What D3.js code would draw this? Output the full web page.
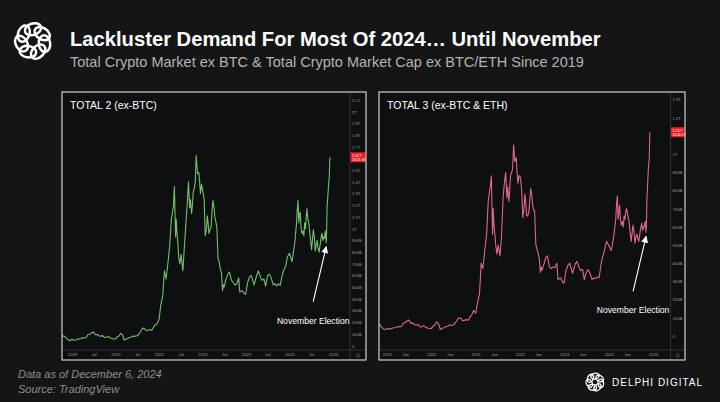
<!DOCTYPE html>
<html>
<head>
<meta charset="utf-8">
<script src="https://cdn.jsdelivr.net/npm/d3@7"></script>
<style>
  body { margin: 0; background: #141517; }
  svg { display: block; font-family: "Liberation Sans", Arial, sans-serif; }
</style>
</head>
<body>
<div id="chart"></div>
<script>

// shared dates for both series
const dates = [
  "2018-10-01","2018-10-15","2018-11-01","2018-11-15","2018-12-01","2018-12-15",
  "2019-01-01","2019-01-15","2019-02-01","2019-02-15","2019-03-01","2019-03-15",
  "2019-04-01","2019-04-15","2019-05-01","2019-05-15","2019-06-01","2019-06-15",
  "2019-07-01","2019-07-15","2019-08-01","2019-08-15","2019-09-01","2019-09-15",
  "2019-10-01","2019-10-15","2019-11-01","2019-11-15","2019-12-01","2019-12-15",
  "2020-01-01","2020-01-15","2020-02-01","2020-02-15","2020-03-01","2020-03-15",
  "2020-04-01","2020-04-15","2020-05-01","2020-05-15","2020-06-01","2020-06-15",
  "2020-07-01","2020-07-15","2020-08-01","2020-08-15","2020-09-01","2020-09-15",
  "2020-10-01","2020-10-15","2020-11-01","2020-11-15","2020-12-01","2020-12-15",
  "2021-01-01","2021-01-15","2021-02-01","2021-02-15","2021-03-01","2021-03-15",
  "2021-04-01","2021-04-15","2021-05-01","2021-05-10","2021-05-20","2021-05-25",
  "2021-06-01","2021-06-08","2021-06-15","2021-06-25","2021-07-05","2021-07-20",
  "2021-08-01","2021-08-15","2021-08-25","2021-09-05","2021-09-15","2021-09-22",
  "2021-10-01","2021-10-08","2021-10-15","2021-10-25","2021-11-01","2021-11-09",
  "2021-11-20","2021-12-01","2021-12-08","2021-12-15","2021-12-24","2022-01-01",
  "2022-01-08","2022-01-15","2022-01-24","2022-02-03","2022-02-10","2022-02-17",
  "2022-02-24","2022-03-05","2022-03-15","2022-03-22","2022-03-30","2022-04-08",
  "2022-04-15","2022-04-25","2022-05-01","2022-05-12","2022-05-20","2022-06-01",
  "2022-06-10","2022-06-18","2022-06-25","2022-07-01","2022-07-15","2022-08-01",
  "2022-08-15","2022-09-01","2022-09-15","2022-10-01","2022-10-15","2022-11-01",
  "2022-11-10","2022-12-01","2022-12-15","2022-12-30","2023-01-15","2023-02-01",
  "2023-02-15","2023-03-10","2023-04-01","2023-04-15","2023-05-01","2023-05-15",
  "2023-06-01","2023-06-15","2023-07-01","2023-07-15","2023-08-01","2023-08-18",
  "2023-09-01","2023-09-15","2023-10-01","2023-10-15","2023-11-01","2023-11-15",
  "2023-12-01","2023-12-15","2024-01-01","2024-01-23","2024-02-01","2024-02-15",
  "2024-03-01","2024-03-06","2024-03-13","2024-03-20","2024-03-27","2024-04-01",
  "2024-04-08","2024-04-15","2024-04-24","2024-05-01","2024-05-08","2024-05-15",
  "2024-05-21","2024-05-27","2024-06-03","2024-06-10","2024-06-17","2024-06-24",
  "2024-07-05","2024-07-12","2024-07-20","2024-07-28","2024-08-05","2024-08-12",
  "2024-08-20","2024-08-27","2024-09-06","2024-09-13","2024-09-20","2024-09-27",
  "2024-10-01","2024-10-08","2024-10-15","2024-10-22","2024-10-28","2024-11-05",
  "2024-11-09","2024-11-12","2024-11-17","2024-11-22","2024-11-27","2024-12-01",
  "2024-12-06"
];

// TOTAL2 (ex-BTC), billions USD
const total2 = [
  88, 84, 80, 62, 50, 43,
  54, 49, 47, 56, 57, 61,
  68, 66, 72, 96, 98, 110,
  116, 93, 96, 84, 82, 86,
  70, 72, 78, 68, 62, 57,
  58, 74, 84, 106, 90, 49,
  58, 63, 72, 74, 82, 80,
  85, 98, 124, 150, 146, 128,
  130, 138, 132, 158, 180, 186,
  225, 340, 430, 640, 570, 690,
  860, 1090, 1180, 1360, 930, 1080,
  960, 880, 760, 700, 780, 640,
  830, 1050, 1200, 1400, 1180, 1250,
  1130, 1200, 1310, 1350, 1400, 1625,
  1470, 1480, 1400, 1300, 1380, 1330,
  1300, 1250, 940, 1000, 1110, 1050,
  960, 990, 1020, 1150, 1240, 1180,
  1100, 1050, 1020, 740, 720, 650,
  620, 470, 520, 500, 560, 610,
  630, 560, 540, 520, 525, 580,
  460, 470, 450, 440, 540, 590,
  600, 520, 600, 640, 590, 560,
  570, 510, 600, 610, 580, 520,
  530, 510, 530, 515, 600, 650,
  680, 760, 790, 720, 780, 880,
  1050, 1150, 1240, 1050, 1130, 1140,
  1000, 960, 980, 940, 1050, 1000,
  1100, 1170, 1090, 1060, 1000, 930,
  820, 900, 990, 930, 810, 860,
  900, 840, 800, 850, 900, 950,
  960, 900, 930, 920, 980, 880,
  1000, 1180, 1250, 1330, 1400, 1450,
  1610
];

// TOTAL3 (ex-BTC & ETH), billions USD
const total3 = [
  72, 68, 66, 50, 40, 35,
  42, 39, 38, 44, 45, 47,
  52, 50, 54, 70, 74, 82,
  88, 70, 72, 62, 60, 63,
  50, 52, 56, 48, 44, 41,
  42, 54, 62, 78, 66, 36,
  42, 46, 52, 54, 60, 58,
  62, 70, 88, 100, 96, 84,
  86, 90, 86, 104, 118, 140,
  125, 180, 230, 400, 370, 460,
  560, 750, 820, 880, 560, 700,
  600, 560, 500, 450, 500, 440,
  540, 760, 840, 900, 760, 820,
  740, 800, 880, 900, 920, 1050,
  960, 980, 900, 840, 880, 880,
  850, 800, 650, 700, 780, 740,
  660, 660, 680, 740, 810, 780,
  720, 690, 690, 500, 480, 450,
  420, 350, 380, 360, 390, 430,
  440, 380, 370, 380, 375, 400,
  310, 320, 300, 290, 360, 390,
  400, 345, 395, 410, 380, 360,
  365, 310, 350, 365, 345, 310,
  320, 315, 325, 320, 400, 440,
  480, 520, 500, 470, 500, 560,
  650, 720, 770, 640, 690, 720,
  640, 610, 630, 600, 660, 640,
  680, 700, 680, 660, 630, 590,
  520, 560, 610, 580, 510, 540,
  560, 540, 520, 550, 590, 610,
  620, 580, 600, 600, 630, 570,
  650, 760, 820, 900, 950, 980,
  1120
];

const yTicks2 = [0, 100, 200, 300, 400, 500, 600, 700, 800, 900, 1000,
  1100, 1200, 1300, 1400, 1500, 1600, 1700, 1800, 1900, 2000, 2100];
const yTicks3 = [0, 100, 200, 300, 400, 500, 600, 700, 800, 900, 1000, 1100, 1200, 1300];

const xTicks2 = ["2019-01-01","2019-07-01","2020-01-01","2020-07-01","2021-01-01","2021-07-01",
  "2022-01-01","2022-07-01","2023-01-01","2023-07-01","2024-01-01","2024-07-01","2025-01-01"];
const xLabels2 = ["2019","Jul","2020","Jul","2021","Jul","2022","Jul","2023","Jul","2024","Jul","2025"];
const xTicks3 = ["2019-01-01","2019-06-01","2020-01-01","2020-06-01","2021-01-01","2021-06-01",
  "2022-01-01","2022-06-01","2023-01-01","2023-06-01","2024-01-01","2024-06-01","2025-01-01"];
const xLabels3 = ["2019","Jun","2020","Jun","2021","Jun","2022","Jun","2023","Jun","2024","Jun","2025"];

const electionDate = "2024-11-05";

const parse = d3.timeParse("%Y-%m-%d");

function fmtAxis(v) {
  if (v === 0) return "0";
  if (v < 1000) return v + "B";
  return (v / 1000) + "T";
}

const width = 720;
const height = 402;

const svg = d3.select("#chart")
  .append("svg")
  .attr("width", width)
  .attr("height", height);

svg.append("rect")
  .attr("width", width)
  .attr("height", height)
  .attr("fill", "#141517");

// arrow head marker
svg.append("defs").append("marker")
  .attr("id", "arrow")
  .attr("markerUnits", "userSpaceOnUse")
  .attr("viewBox", "0 0 10 10")
  .attr("refX", 9).attr("refY", 5)
  .attr("markerWidth", 7).attr("markerHeight", 7)
  .attr("orient", "auto")
  .append("path")
  .attr("d", "M0,0 L10,5 L0,10 z")
  .attr("fill", "#fff");

// ring of woven loops, roughly the Delphi mark
function drawLogo(g, cx, cy, r, sw) {
  const logo = g.append("g").attr("transform", `translate(${cx},${cy})`);
  d3.range(7).forEach(function (k) {
    const a = k * 360 / 7;
    logo.append("ellipse")
      .attr("transform", `rotate(${a}) translate(0,${-r * 0.62}) rotate(-18)`)
      .attr("rx", r * 0.44)
      .attr("ry", r * 0.3)
      .attr("fill", "none")
      .attr("stroke", "#fff")
      .attr("stroke-width", sw);
  });
}

// header
drawLogo(svg, 33, 41, 19, 2.5);

svg.append("text")
  .attr("x", 70).attr("y", 46)
  .attr("fill", "#fff")
  .attr("font-size", 20.2)
  .attr("font-weight", "bold")
  .text("Lackluster Demand For Most Of 2024\u2026 Until November");

svg.append("text")
  .attr("x", 70).attr("y", 67)
  .attr("fill", "#b4b4b4")
  .attr("font-size", 14.5)
  .text("Total Crypto Market ex BTC & Total Crypto Market Cap ex BTC/ETH Since 2019");

function drawPanel(cfg) {
  const g = svg.append("g");

  g.append("rect")
    .attr("x", cfg.left).attr("y", cfg.top)
    .attr("width", cfg.right - cfg.left)
    .attr("height", cfg.bottom - cfg.top)
    .attr("fill", "#0e0f11");

  const x = d3.scaleTime()
    .domain([parse("2019-01-01"), parse("2025-01-01")])
    .range(cfg.xRange);

  const y = d3.scaleLinear()
    .domain([0, cfg.yMax])
    .range(cfg.yRange);

  // separators
  g.append("line")
    .attr("x1", cfg.sepX).attr("x2", cfg.sepX)
    .attr("y1", cfg.top).attr("y2", cfg.bottom)
    .attr("stroke", "#2f3034").attr("stroke-width", 1);
  g.append("line")
    .attr("x1", cfg.left).attr("x2", cfg.right)
    .attr("y1", cfg.sepY).attr("y2", cfg.sepY)
    .attr("stroke", "#2f3034").attr("stroke-width", 1);

  const clipId = "clip-" + cfg.id;
  g.append("clipPath").attr("id", clipId)
    .append("rect")
    .attr("x", cfg.left).attr("y", cfg.top)
    .attr("width", cfg.sepX - cfg.left)
    .attr("height", cfg.sepY - cfg.top);

  const points = dates.map((d, i) => ({ date: parse(d), value: cfg.values[i] }));
  const last = points[points.length - 1];
  const ly = y(last.value);

  const line = d3.line()
    .x(d => x(d.date))
    .y(d => y(d.value));

  g.append("path")
    .datum(points)
    .attr("clip-path", `url(#${clipId})`)
    .attr("d", line)
    .attr("fill", "none")
    .attr("stroke", cfg.color)
    .attr("stroke-width", 1.1)
    .attr("stroke-linejoin", "round");

  // price axis (the label under the last value tag is covered, so skip it)
  const shown = cfg.yTicks.filter(t => Math.abs(y(t) - ly) > 6);
  const yAxis = g.append("g")
    .attr("transform", `translate(${cfg.sepX},0)`)
    .call(d3.axisRight(y).tickValues(shown).tickSize(0).tickPadding(2).tickFormat(fmtAxis));
  yAxis.select(".domain").remove();
  yAxis.selectAll("text")
    .attr("fill", "#9c9c9c")
    .attr("font-size", 4.2)
    .attr("font-family", "Liberation Sans, Arial, sans-serif");

  // time axis
  const xAxis = g.append("g")
    .attr("transform", `translate(0,${cfg.sepY})`)
    .call(d3.axisBottom(x)
      .tickValues(cfg.xTicks.map(parse))
      .tickSize(0).tickPadding(3)
      .tickFormat((d, i) => cfg.xLabels[i]));
  xAxis.select(".domain").remove();
  xAxis.selectAll("text")
    .attr("fill", "#9c9c9c")
    .attr("font-size", 4.2)
    .attr("font-family", "Liberation Sans, Arial, sans-serif");

  // corner settings mark
  g.append("circle")
    .attr("cx", (cfg.sepX + cfg.right) / 2).attr("cy", 355.5)
    .attr("r", 1.6)
    .attr("fill", "none")
    .attr("stroke", "#7a7a7a").attr("stroke-width", 0.6);

  // last value tag
  g.append("rect")
    .attr("x", cfg.sepX + 0.5).attr("y", ly - 5)
    .attr("width", cfg.right - cfg.sepX - 1).attr("height", 10)
    .attr("fill", "#ee1c24");
  g.append("text")
    .attr("x", cfg.sepX + 2).attr("y", ly - 0.6)
    .attr("fill", "#fff").attr("font-size", 3.8)
    .text((last.value / 1000).toFixed(2) + "T");
  g.append("text")
    .attr("x", cfg.sepX + 2).attr("y", ly + 3.6)
    .attr("fill", "#fff").attr("font-size", 3.4)
    .text(cfg.timer);

  // election annotation
  const ei = dates.indexOf(electionDate);
  const tipX = x(points[ei].date);
  const tipY = y(points[ei].value) + 4;
  const tailX = tipX - 13;
  const tailY = tipY + 55;
  g.append("line")
    .attr("x1", tailX).attr("y1", tailY)
    .attr("x2", tipX).attr("y2", tipY)
    .attr("stroke", "#fff").attr("stroke-width", 1.1)
    .attr("marker-end", "url(#arrow)");
  g.append("text")
    .attr("x", tailX).attr("y", tailY + 22)
    .attr("text-anchor", "middle")
    .attr("fill", "#fff")
    .attr("font-size", 8.6)
    .text("November Election");

  // panel title
  g.append("text")
    .attr("x", cfg.left + 8).attr("y", 109)
    .attr("fill", "#fff")
    .attr("font-size", 10.5)
    .text(cfg.title);

  // outer border
  g.append("rect")
    .attr("x", cfg.left).attr("y", cfg.top)
    .attr("width", cfg.right - cfg.left)
    .attr("height", cfg.bottom - cfg.top)
    .attr("fill", "none")
    .attr("stroke", "#cfcfcf")
    .attr("stroke-width", 1.2);
}

drawPanel({
  id: "t2", title: "TOTAL 2 (ex-BTC)",
  left: 62, right: 366, top: 92, bottom: 360, sepX: 350, sepY: 350,
  xRange: [72, 333], yRange: [345.7, 100], yMax: 2100,
  values: total2, yTicks: yTicks2, xTicks: xTicks2, xLabels: xLabels2,
  color: "#72c06c", timer: "20:41:58"
});

drawPanel({
  id: "t3", title: "TOTAL 3 (ex-BTC & ETH)",
  left: 379, right: 685, top: 92, bottom: 360, sepX: 670.5, sepY: 350,
  xRange: [387, 653], yRange: [336, 99.5], yMax: 1300,
  values: total3, yTicks: yTicks3, xTicks: xTicks3, xLabels: xLabels3,
  color: "#dc6890", timer: "20:40:17"
});

// footer
svg.append("text")
  .attr("x", 18).attr("y", 378)
  .attr("fill", "#8e8e8e").attr("font-size", 11).attr("font-style", "italic")
  .text("Data as of December 6, 2024");
svg.append("text")
  .attr("x", 18).attr("y", 393)
  .attr("fill", "#8e8e8e").attr("font-size", 11).attr("font-style", "italic")
  .text("Source: TradingView");

drawLogo(svg, 595, 382, 9.5, 1.3);
svg.append("text")
  .attr("x", 612).attr("y", 386)
  .attr("fill", "#fff").attr("font-size", 10)
  .attr("letter-spacing", 1)
  .text("DELPHI DIGITAL");

</script>
</body>
</html>
